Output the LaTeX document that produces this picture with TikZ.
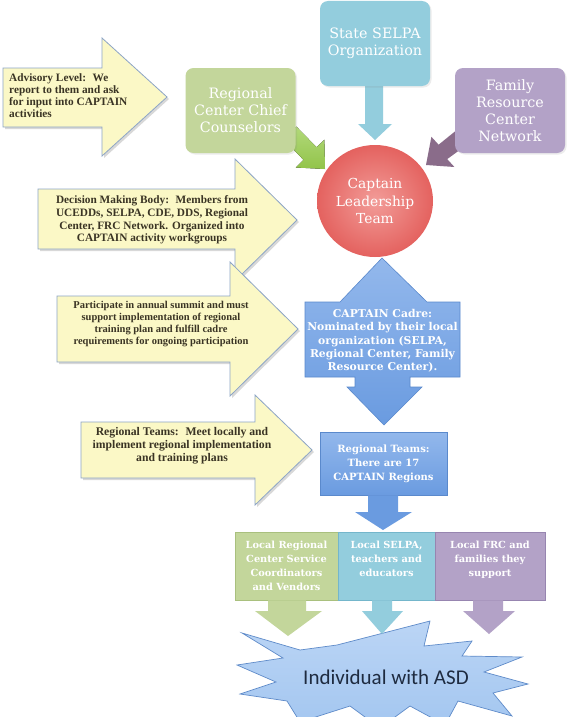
\documentclass[tikz,border=0pt]{standalone}
\usepackage{fontspec}
\setmainfont{Liberation Serif}
\newfontfamily\dvs{DejaVu Serif}
\newfontfamily\calib{Carlito}
\usetikzlibrary{shadows,shapes.geometric}
\definecolor{yelfill}{HTML}{FBF8C6}
\definecolor{yeldraw}{HTML}{8DA5C6}
\definecolor{yeltext}{HTML}{3A3424}
\definecolor{grn}{HTML}{C3D69B}
\definecolor{grnD}{HTML}{A9C07E}
\definecolor{blu}{HTML}{93CDDD}
\definecolor{bluD}{HTML}{74B6CB}
\definecolor{pur}{HTML}{B3A2C7}
\definecolor{purD}{HTML}{9785B0}
\definecolor{grnarrow}{HTML}{92C44A}
\definecolor{grnarrowL}{HTML}{B2D97A}
\definecolor{purarrow}{HTML}{8A6C8A}
\definecolor{circ}{HTML}{E4625F}
\definecolor{circL}{HTML}{F29C98}
\definecolor{cad}{HTML}{6A9BE0}
\definecolor{cadL}{HTML}{93B8EC}
\definecolor{cadD}{HTML}{5A89CC}
\definecolor{star}{HTML}{A3C6F0}
\definecolor{starL}{HTML}{BBD5F5}
\definecolor{starD}{HTML}{5F8BC9}
\definecolor{startext}{HTML}{1E2B40}
\tikzset{
 yarrow/.style={fill=yelfill, draw=yeldraw, line width=0.8pt, line join=miter,
   drop shadow={shadow xshift=2pt, shadow yshift=-2pt, opacity=0.3}},
 ytext/.style={text=yeltext, font=\bfseries\fontsize{11.3}{12.7}\selectfont, align=center, inner sep=0pt},
 topbox/.style={rounded corners=8pt, minimum width=110pt, minimum height=85pt, text=white,
   font=\dvs\fontsize{14.3}{17}\selectfont, align=center, inner sep=0pt,
   drop shadow={shadow xshift=1.5pt, shadow yshift=-1.5pt, opacity=0.15}},
 botbox/.style={minimum height=68pt, text=white, line width=0.8pt,
   font=\dvs\bfseries\fontsize{9.8}{14}\selectfont, align=center, inner sep=0pt},
 blockar/.style={line join=miter},
}
\begin{document}
\begin{tikzpicture}[x=1pt,y=-1pt]
\useasboundingbox (0,0) rectangle (567,717);
\clip (0,0) rectangle (567,717);
\fill[white] (0,0) rectangle (567,717);

% left yellow arrows
\path[yarrow] (3,68) -- (102,68) -- (102,38) -- (167,97) -- (102,156) -- (102,127) -- (3,127) -- cycle;
\node[ytext, anchor=west, align=left, font=\bfseries\fontsize{11.3}{12}\selectfont] (adv) at (9,95.5)
  {Advisory Level:~ We\\report to them and ask\\for input into CAPTAIN\\activities};

\path[yarrow] (38,189) -- (235,189) -- (235,159) -- (297,220) -- (235,281) -- (235,249) -- (38,249) -- cycle;
\node[ytext] (dec) at (152,220)
  {Decision Making Body:~ Members from\\UCEDDs, SELPA, CDE, DDS, Regional\\Center, FRC Network. Organized into\\CAPTAIN activity workgroups};

\path[yarrow] (57,296) -- (230,296) -- (230,262) -- (298,329) -- (230,396) -- (230,362) -- (57,362) -- cycle;
\node[ytext, font=\bfseries\fontsize{10.5}{11.7}\selectfont] (par) at (161,324)
  {Participate in annual summit and must\\support implementation of regional\\training plan and fulfill cadre\\requirements for ongoing participation};

\path[yarrow] (81,422) -- (255,422) -- (255,395) -- (312,450) -- (255,505) -- (255,478) -- (81,478) -- cycle;
\node[ytext, font=\bfseries\fontsize{11.7}{13}\selectfont] (rtx) at (182,446)
  {Regional Teams:~ Meet locally and\\implement regional implementation\\and training plans};

% block arrows from top boxes
\fill[blockar, top color=grnarrowL, bottom color=grnarrow]
  (296.5,126.7) -- (316.6,147.3) -- (324.4,139.7) -- (325,169) -- (295.8,167.5) -- (303.6,159.9) -- (283.5,139.3) -- cycle;
\fill[blockar, purarrow]
  (470.5,142.2) -- (447.2,159.1) -- (454.4,167.0) -- (426,165) -- (431.4,136.8) -- (438.6,144.7) -- (459.5,127.8) -- cycle;
\fill[blockar, blu]
  (365,80) -- (383,80) -- (383,124) -- (392,124) -- (375,140) -- (358,124) -- (365,124) -- cycle;

% top boxes
\node[topbox, fill=grn] (rccc) at (240.5,110.5) {Regional\\Center Chief\\Counselors};
\node[topbox, fill=blu] (selpa) at (375,43.5) {State SELPA\\Organization};
\node[topbox, fill=pur] (frcn) at (510,110.5) {Family\\Resource\\Center\\Network};

% leadership circle
\node[ellipse, minimum width=116pt, minimum height=112pt, inner color=circL, outer color=circ,
  text=white, font=\dvs\fontsize{13.8}{17.5}\selectfont, align=center, inner sep=0pt] (clt) at (375,201)
  {Captain\\Leadership\\Team};

% cadre up-down arrow
\path[top color=cadL, bottom color=cad, draw=cadD, line width=0.6pt, line join=miter]
  (382,258) -- (427,302) -- (460,302) -- (460,377) -- (410,377) -- (410,387) -- (422,387) -- (384,425)
  -- (347,387) -- (355,387) -- (355,377) -- (305,377) -- (305,302) -- (340,302) -- cycle;
\node[text=white, font=\dvs\bfseries\fontsize{10.8}{13.3}\selectfont, align=center, inner sep=0pt] (cad) at (382.5,341)
  {CAPTAIN Cadre:\\Nominated by their local\\organization (SELPA,\\Regional Center, Family\\Resource Center).};

% regional teams box
\node[minimum width=127pt, minimum height=63pt, top color=cadL, bottom color=cad, draw=cadD, line width=0.6pt,
  text=white, font=\dvs\bfseries\fontsize{10}{14}\selectfont, align=center, inner sep=0pt] (reg) at (383.5,463.5)
  {Regional Teams:\\There are 17\\CAPTAIN Regions};
\fill[blockar, cad] (368,495.3) -- (398,495.3) -- (398,512) -- (412,512) -- (383,530) -- (355,512) -- (368,512) -- cycle;

% starburst
\path[top color=starL, bottom color=star, draw=starD, line width=0.7pt, line join=miter]
  (242,633) -- (300,650) -- (337,645) -- (430,621) -- (424,646) -- (472,641) -- (462,656) -- (522,657)
  -- (484,672) -- (528,684) -- (493,693) -- (512,716) -- (458,701) -- (445,725) -- (410,706) -- (380,728)
  -- (350,706) -- (300,722) -- (287,701) -- (240,694) -- (276,682) -- (237,665) -- (283,658) -- cycle;
\node[text=startext, font=\calib\fontsize{21}{24}\selectfont, inner sep=0pt] (asd) at (386,677) {Individual with ASD};

% bottom boxes
\node[botbox, fill=grn, draw=grnD, minimum width=103pt] (lrc) at (286.5,566)
  {Local Regional\\Center Service\\Coordinators\\and Vendors};
\node[botbox, fill=blu, draw=bluD, minimum width=97pt] (lsel) at (386.5,566)
  {Local SELPA,\\teachers and\\educators\\\mbox{}};
\node[botbox, fill=pur, draw=purD, minimum width=110pt] (lfrc) at (490,566)
  {Local FRC and\\families they\\support\\\mbox{}};

% bottom arrows
\fill[blockar, grn] (268,600.4) -- (306,600.4) -- (306,611) -- (322,611) -- (288,636) -- (255,611) -- (268,611) -- cycle;
\fill[blockar, blu] (372,600.4) -- (392,600.4) -- (392,611) -- (403,611) -- (382,634) -- (362,611) -- (372,611) -- cycle;
\fill[blockar, pur] (473,600.4) -- (503,600.4) -- (503,611) -- (515,611) -- (489,634) -- (463,611) -- (473,611) -- cycle;
\end{tikzpicture}
\end{document}
